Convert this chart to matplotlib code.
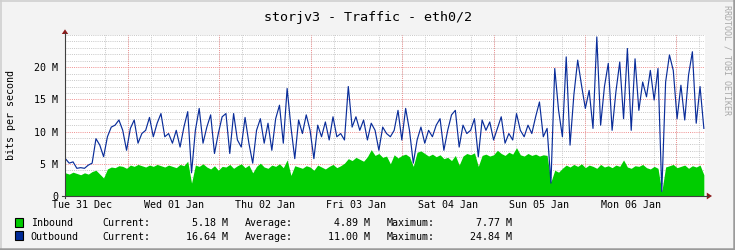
import numpy as np
import matplotlib
matplotlib.use("Agg")
import matplotlib.pyplot as plt
from matplotlib.ticker import MultipleLocator
from matplotlib.lines import Line2D
from matplotlib.patches import Polygon, Rectangle

# hourly samples, Tue 31 Dec 08:00 .. Tue 07 Jan 07:00 (Mbit/s)
inbound = [
    3.6, 3.4, 3.7, 3.5, 3.3, 3.6, 3.4, 3.8,
    4.0, 3.4, 2.8, 4.2, 4.5, 4.4, 4.7, 4.6,
    4.3, 4.8, 4.6, 4.9, 4.7, 4.5, 4.8, 4.6,
    4.9, 4.7, 4.5, 4.8, 4.6, 4.4, 4.9, 4.7,
    5.4, 2.0, 4.8, 4.6, 5.0, 4.5, 4.2, 4.7,
    4.0, 4.6, 4.5, 4.9, 4.3, 4.7, 5.0, 4.4,
    4.8, 3.6, 4.6, 5.1, 4.5, 4.3, 4.8, 4.6,
    5.0, 4.4, 5.6, 3.2, 4.7, 4.5, 4.3, 4.7,
    4.5, 4.0, 4.8, 4.5, 4.2, 4.6, 4.9, 4.4,
    4.7, 5.1, 5.8, 5.5, 6.0, 5.7, 5.4, 6.1,
    7.2, 6.3, 6.6, 6.0, 6.2, 5.0, 6.4, 5.9,
    6.3, 6.5, 6.1, 4.6, 6.8, 7.0, 6.6, 6.2,
    6.5, 6.1, 6.4, 5.8, 6.0, 5.5, 6.3, 4.8,
    6.2, 6.6, 6.4, 6.7, 4.6, 6.3, 6.5, 6.2,
    6.4, 7.1, 6.6, 6.3, 6.8, 6.5, 7.5, 6.4,
    6.2, 6.6, 6.3, 6.5, 6.2, 6.4, 6.3, 2.2,
    4.0, 3.7, 4.3, 4.8, 4.5, 4.9, 4.6, 5.0,
    4.4, 4.8, 4.6, 4.3, 4.9, 4.5, 4.7, 4.4,
    4.8, 4.6, 5.6, 4.5, 4.3, 4.7, 4.6, 4.9,
    4.4, 4.2, 4.6, 4.3, 0.7, 4.5, 4.7, 4.9,
    4.4, 4.6, 4.8, 4.3, 4.7, 4.5, 4.8, 3.3,
]
outbound = [
    5.8, 5.1, 5.3, 4.3, 4.4, 4.3, 4.8, 5.1,
    8.9, 7.9, 6.1, 9.2, 10.7, 11.0, 11.8, 10.2,
    7.1, 10.5, 11.8, 8.2, 9.7, 10.2, 12.2, 9.2,
    11.3, 12.8, 9.2, 9.7, 8.2, 10.2, 7.6, 10.7,
    13.1, 3.6, 10.2, 13.6, 8.2, 10.7, 12.6, 6.6,
    9.7, 12.3, 12.8, 6.6, 12.8, 8.7, 7.6, 12.2,
    8.2, 5.1, 10.2, 12.0, 8.2, 11.3, 7.1, 12.0,
    14.1, 8.2, 16.7, 10.7, 5.8, 11.8, 9.7, 12.6,
    10.2, 5.8, 11.0, 9.2, 11.5, 8.7, 12.3, 9.2,
    9.7, 8.7, 17.0, 10.7, 12.3, 10.2, 11.8, 8.7,
    11.3, 10.2, 7.1, 10.7, 9.7, 9.2, 10.2, 13.3,
    8.7, 13.6, 10.2, 5.1, 8.7, 10.7, 8.2, 10.2,
    9.2, 11.0, 12.0, 7.1, 10.2, 12.6, 13.3, 7.6,
    11.0, 9.7, 10.2, 12.0, 6.1, 11.8, 10.2, 11.5,
    8.7, 10.5, 12.3, 8.2, 9.7, 8.7, 12.8, 10.2,
    9.2, 11.0, 9.7, 12.3, 14.6, 9.2, 10.5, 2.0,
    19.8, 13.3, 9.2, 21.6, 7.9, 15.7, 21.1, 17.2,
    13.6, 16.4, 10.5, 24.7, 11.0, 17.0, 20.6, 10.2,
    16.2, 20.8, 12.0, 22.9, 10.2, 21.3, 13.3, 17.7,
    15.4, 19.5, 14.9, 19.8, 0.7, 17.7, 21.9, 19.5,
    12.0, 17.2, 11.8, 18.8, 22.4, 11.3, 17.0, 10.5,
]
day_labels = ["Tue 31 Dec", "Wed 01 Jan", "Thu 02 Jan", "Fri 03 Jan",
              "Sat 04 Jan", "Sun 05 Jan", "Mon 06 Jan"]
y_ticks = [0, 5, 10, 15, 20]
y_labels = ["0", "5 M", "10 M", "15 M", "20 M"]
legend_rows = [
    ("Inbound", "5.18 M", "4.89 M", "7.77 M", "#00CC00"),
    ("Outbound", "16.64 M", "11.00 M", "24.84 M", "#002A97"),
]

W, H = 735, 250
mono = "DejaVu Sans Mono"
plt.rcParams["font.family"] = mono

def fx(x):
    return x / W

def fy(y):
    return 1 - y / H

fig = plt.figure(figsize=(W / 100, H / 100), dpi=100, facecolor="#F3F3F3")
ax = fig.add_axes([fx(65), fy(196), 640 / W, 161 / H])
ax.set_facecolor("white")

# hours since Tue 31 Dec 00:00
hours = np.linspace(7.6, 175.2, len(inbound))
inb = np.array(inbound) * 1e6
outb = np.array(outbound) * 1e6

ax.fill_between(hours, 0, inb, color="#00CC00", lw=0, zorder=2)
ax.plot(hours, outb, color="#0A2D9A", lw=0.85, zorder=3)

ax.set_xlim(7.5, 175.5)
ax.set_ylim(0, 25e6)

# grid
ax.xaxis.set_minor_locator(MultipleLocator(6))
ax.yaxis.set_minor_locator(MultipleLocator(1e6))
ax.grid(which="minor", color="#C8C8C8", lw=0.7, ls=(0, (1, 1.2)))
ax.grid(which="major", axis="y", color="#F09090", lw=0.7, ls=(0, (1, 1.2)))
for d in range(1, 8):
    ax.axvline(24 * d, color="#F09090", lw=0.7, ls=(0, (1, 1.2)), zorder=0.6)
ax.set_axisbelow(True)

ax.set_xticks([12 + 24 * i for i in range(7)], day_labels)
ax.set_yticks([v * 1e6 for v in y_ticks], y_labels)
ax.tick_params(axis="both", which="major", length=0, labelsize=7.2, colors="black")
ax.tick_params(axis="x", which="major", pad=2.6)
ax.tick_params(axis="y", which="major", pad=4.7)
ax.tick_params(axis="both", which="minor", length=0)
for s in ax.spines.values():
    s.set_visible(False)

# axis lines with arrows
fig.add_artist(Line2D([fx(65), fx(65)], [fy(198), fy(33)], color="#404040", lw=0.8))
fig.add_artist(Line2D([fx(62), fx(708)], [fy(196), fy(196)], color="#404040", lw=0.8))
fig.add_artist(Polygon([(fx(65), fy(29.3)), (fx(61.8), fy(34)), (fx(68.2), fy(34))],
                       closed=True, color="#8B1A1A", lw=0))
fig.add_artist(Polygon([(fx(712), fy(196)), (fx(706.8), fy(192.6)), (fx(706.8), fy(199.4))],
                       closed=True, color="#8B1A1A", lw=0))

fig.text(fx(367.5), fy(20.5), "storjv3 - Traffic - eth0/2", ha="center",
         va="baseline", fontsize=9.6)
fig.text(fx(11.5), fy(115), "bits per second", rotation=90, ha="center",
         va="center", fontsize=7.2)
fig.text(fx(726.5), fy(5), "RRDTOOL / TOBI OETIKER", rotation=270, ha="center",
         va="top", fontsize=6, color="#A8A8A8")

# legend
for i, (name, cur, avg, mx, col) in enumerate(legend_rows):
    base = 226.3 + 13.5 * i
    fig.add_artist(Rectangle((fx(15), fy(base + 0.5)), 8.3 / W, 9 / H,
                             facecolor=col, edgecolor="black", lw=0.8))
    fig.text(fx(30.7), fy(base), name, va="baseline", fontsize=7.2)
    fig.text(fx(102.7), fy(base), "Current:", va="baseline", fontsize=7.2)
    fig.text(fx(228.3), fy(base), cur, ha="right", va="baseline", fontsize=7.2)
    fig.text(fx(245), fy(base), "Average:", va="baseline", fontsize=7.2)
    fig.text(fx(370), fy(base), avg, ha="right", va="baseline", fontsize=7.2)
    fig.text(fx(386.7), fy(base), "Maximum:", va="baseline", fontsize=7.2)
    fig.text(fx(511.7), fy(base), mx, ha="right", va="baseline", fontsize=7.2)

# frame shading
fig.add_artist(Line2D([0, 1], [fy(0.8), fy(0.8)], color="#CFCFCF", lw=1.2))
fig.add_artist(Line2D([fx(0.8), fx(0.8)], [0, 1], color="#CFCFCF", lw=1.2))
fig.add_artist(Line2D([0, 1], [fy(248.8), fy(248.8)], color="#9A9A9A", lw=1.8))
fig.add_artist(Line2D([fx(733.8), fx(733.8)], [0, 1], color="#9A9A9A", lw=1.8))

fig.savefig("out.png", dpi=100, facecolor=fig.get_facecolor())
